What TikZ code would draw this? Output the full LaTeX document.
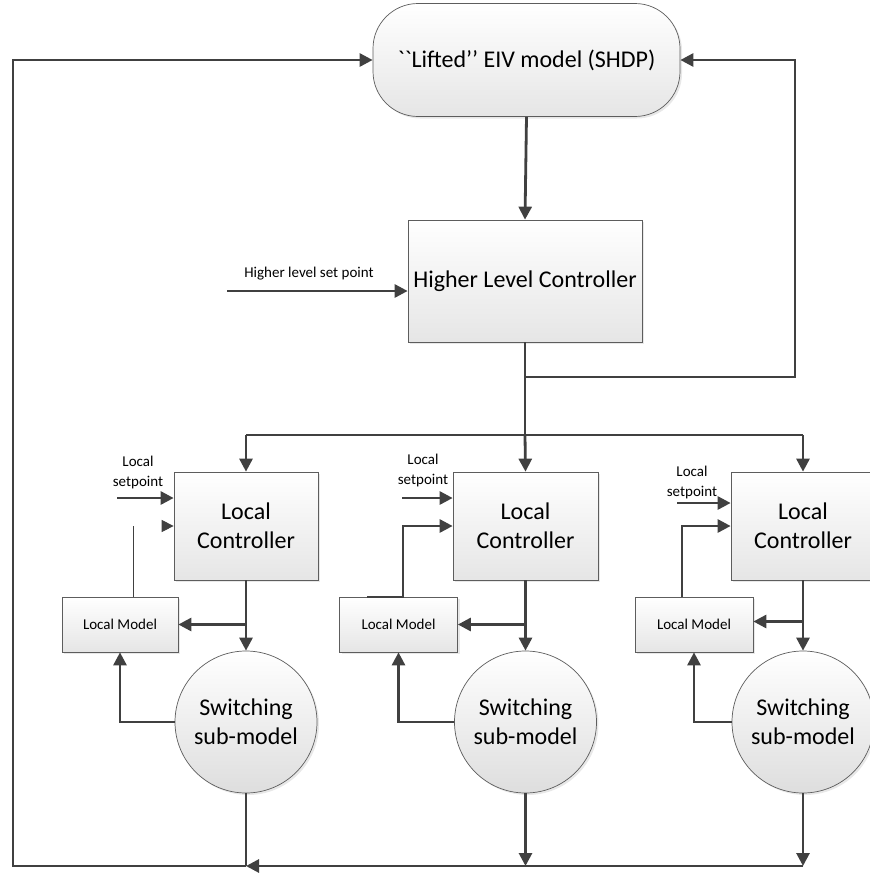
\documentclass[tikz,border=0pt]{standalone}
\usepackage{fontspec}
\setmainfont{Carlito}
\newfontfamily\rawfont[Ligatures=TeXOff]{Carlito}
\usetikzlibrary{arrows.meta,shadows,calc}
\definecolor{ln}{HTML}{404040}
\begin{document}
\begin{tikzpicture}[x=1pt,y=-1pt,
 conn/.style={draw=ln, line width=2.8pt},
 arr/.style={conn, -{Triangle[length=13pt,width=13pt]}},
 thinln/.style={draw=ln, line width=0.9pt},
 boxsty/.style={rectangle, draw=ln!85, line width=0.7pt, top color=white, bottom color=black!10,
   drop shadow={shadow xshift=2pt,shadow yshift=-2pt,opacity=0.18}, inner sep=0pt, align=center},
 circsty/.style={circle, draw=ln!85, line width=0.7pt, top color=white, bottom color=black!13,
   drop shadow={shadow xshift=2pt,shadow yshift=-2pt,opacity=0.18}, inner sep=0pt, align=center, minimum size=142pt},
 big/.style={font=\fontsize{24}{29}\selectfont},
 small/.style={font=\fontsize{15}{20}\selectfont},
 lbl/.style={inner sep=0pt, align=center, font=\fontsize{15}{20}\selectfont}]
\useasboundingbox (0,0) rectangle (870,876);

% nodes
\node[boxsty, rounded corners=45pt, minimum width=307pt, minimum height=113pt,
      font=\rawfont\fontsize{24}{28}\selectfont] (top) at (526.5,60) {\symbol{96}\symbol{96}Lifted’’ EIV model (SHDP)};
\node[boxsty, big, minimum width=234pt, minimum height=122pt] (hlc) at (525,281) {Higher Level Controller};

\node[boxsty, big, minimum width=144pt, minimum height=108pt] (lc1) at (246,526) {Local\\Controller};
\node[boxsty, big, minimum width=145pt, minimum height=108pt] (lc2) at (525.5,526) {Local\\Controller};
\node[boxsty, big, minimum width=144pt, minimum height=108pt] (lc3) at (803,526) {Local\\Controller};

\node[boxsty, small, minimum width=116pt, minimum height=55pt] (lm1) at (120,624.5) {Local Model};
\node[boxsty, small, minimum width=118pt, minimum height=55pt] (lm2) at (398.5,624.5) {Local Model};
\node[boxsty, small, minimum width=118pt, minimum height=55pt] (lm3) at (694,624.5) {Local Model};

\node[circsty, big] (c1) at (246,722) {Switching\\sub-model};
\node[circsty, big] (c2) at (525.5,722) {Switching\\sub-model};
\node[circsty, big] (c3) at (803,722) {Switching\\sub-model};

% labels
\node[lbl] (hsplbl) at (309,274) {Higher level set point};
\node[lbl] (sp1lbl) at (138,472) {Local\\setpoint};
\node[lbl] (sp2lbl) at (423,470) {Local\\setpoint};
\node[lbl] (sp3lbl) at (692,482) {Local\\setpoint};

% coordinates
\coordinate (jr) at (525,377);
\coordinate (rc) at (795,60);
\coordinate (jd) at (525,435);
\coordinate (dl) at (246,435);
\coordinate (dr) at (803,435);
\coordinate (bl) at (13,866);
\coordinate (bm) at (246,866);
\coordinate (b2) at (525.5,866);
\coordinate (b3) at (803,866);
\coordinate (hsp) at (227,291);
\coordinate (sp1) at (117,498);
\coordinate (sp2) at (402,498);
\coordinate (sp3) at (677,503);
\coordinate (fb1a) at (133,597);
\coordinate (fb1b) at (133,526);
\coordinate (fb1c) at (162,526);
\coordinate (fb2a) at (367,597);
\coordinate (fb2b) at (403,526);
\coordinate (fb3a) at (682,597);
\coordinate (fb3b) at (682,526);

% top level connectors
\draw[arr] (top.south) -- (hlc.north);
\draw[arr] (hsp) -- (hsp -| hlc.west);
\draw[conn] (hlc.south) -- (jd);
\draw[arr] (jr) -| (rc) -- (top.east);
\draw[conn] (dl) -- (dr);
\draw[arr] (dl) -- (lc1.north);
\draw[arr] (jd) -- (lc2.north);
\draw[arr] (dr) -- (lc3.north);

% bottom loop
\draw[conn] (c1.south) -- (bm);
\draw[arr] (c2.south) -- (b2);
\draw[arr] (c3.south) -- (b3);
\draw[arr] (b3) -- (bm);
\draw[arr] (bm) -- (bl) |- (top.west);

% local loops
\draw[arr] (lc1.south) -- (c1.north);
\draw[arr] (lc2.south) -- (c2.north);
\draw[arr] (lc3.south) -- (c3.north);
\draw[arr] (lc1.south |- lm1.east) -- (lm1.east);
\draw[arr] (lc2.south |- lm2.east) -- (lm2.east);
\draw[arr] ($(lc3.south |- lm3.east)+(0,-3)$) -- ($(lm3.east)+(0,-3)$);
\draw[arr] (c1.west) -| (lm1.south);
\draw[arr] (c2.west) -| (lm2.south);
\draw[arr] (c3.west) -| (lm3.south);

% setpoints
\draw[arr] (sp1) -- (sp1 -| lc1.west);
\draw[arr] (sp2) -- (sp2 -| lc2.west);
\draw[arr] (sp3) -- (sp3 -| lc3.west);

% feedback into local controllers
\draw[thinln] (fb1a) -- (fb1b);
\draw[thinln, -{Triangle[length=12pt,width=12pt]}] (fb1c) -- (fb1c -| lc1.west);
\draw[arr] (fb2a) -| (fb2b) -- (fb2b -| lc2.west);
\draw[arr] (fb3a) -- (fb3b) -- (fb3b -| lc3.west);
\end{tikzpicture}
\end{document}
